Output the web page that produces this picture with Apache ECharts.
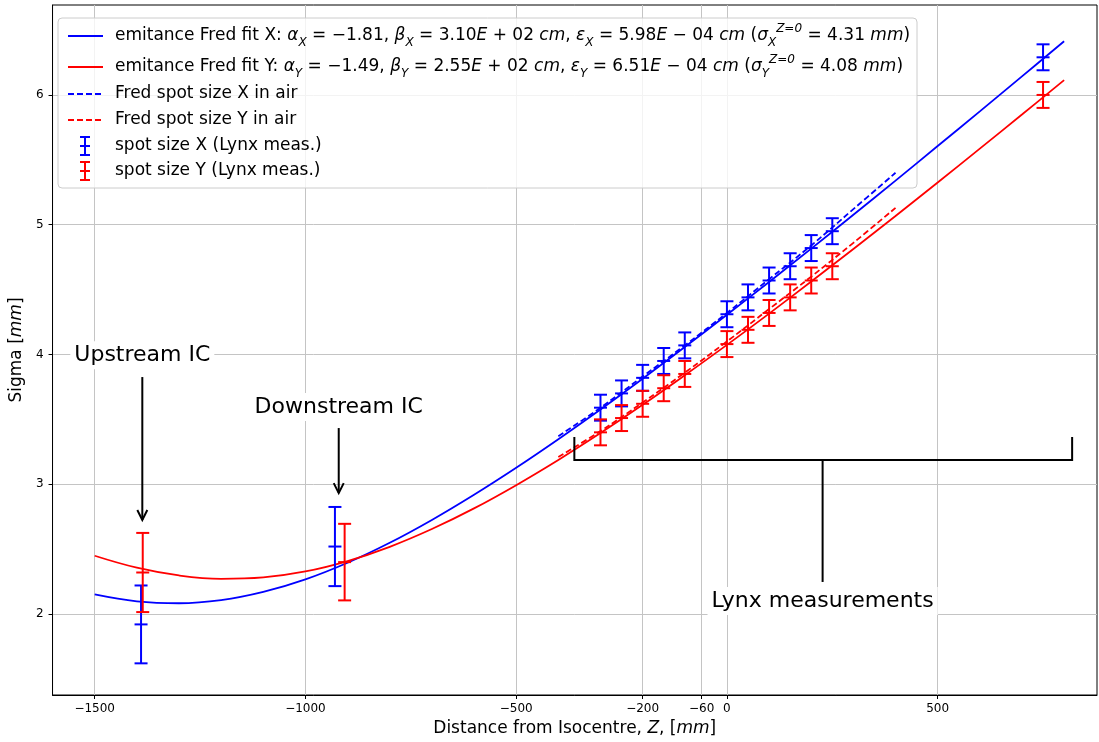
<!DOCTYPE html>
<html><head><meta charset="utf-8">
<script src="https://cdn.jsdelivr.net/npm/echarts@6/dist/echarts.min.js"></script>
<style>html,body{margin:0;padding:0;background:#fff}#c{width:1099px;height:742px}</style>
</head><body><div id="c"></div>
<script>
const FONT = 'DejaVu Sans';
// axis ticks
const xTicks = [-1500, -1000, -500, -200, -60, 0, 500];
const yTicks = [2, 3, 4, 5, 6];
// emittance fit curves
const fitZ = [-1500,-1400,-1300,-1200,-1100,-1000,-900,-800,-700,-600,-500,-400,-300,-200,-100,0,100,200,300,400,500,600,700,800];
const fitX = [2.151,2.098,2.083,2.107,2.170,2.267,2.395,2.549,2.725,2.919,3.127,3.347,3.576,3.813,4.057,4.306,4.559,4.816,5.077,5.340,5.606,5.873,6.143,6.414];
const fitY = [2.449,2.357,2.297,2.271,2.282,2.328,2.408,2.518,2.655,2.814,2.993,3.187,3.394,3.612,3.840,4.074,4.315,4.562,4.813,5.067,5.325,5.586,5.849,6.114];
// Fred spot size in air
const airZ = [-400,-300,-200,-100,0,100,200,300,400];
const airX = [3.37,3.59,3.83,4.07,4.32,4.58,4.84,5.12,5.40];
const airY = [3.21,3.41,3.63,3.86,4.10,4.35,4.60,4.86,5.13];
// measurements (IC + Lynx)
const measZX = [-1390,-930,-300,-250,-200,-150,-100,0,50,100,150,200,250,750];
const measX  = [1.92,2.52,3.59,3.70,3.82,3.95,4.07,4.31,4.44,4.57,4.68,4.82,4.95,6.29];
const errX   = [0.30,0.305,0.10,0.10,0.10,0.10,0.10,0.10,0.10,0.10,0.10,0.10,0.10,0.10];
const measZY = [-1386,-907,-300,-250,-200,-150,-100,0,50,100,150,200,250,750];
const measY  = [2.32,2.40,3.40,3.51,3.62,3.74,3.85,4.08,4.19,4.32,4.44,4.57,4.68,6.00];
const errY   = [0.305,0.295,0.10,0.10,0.10,0.10,0.10,0.10,0.10,0.10,0.10,0.10,0.10,0.10];
// fit parameters (legend text)
const fitAlpha = ['−1.81', '−1.49'];
const fitBeta = ['3.10', '2.55'];
const fitEps = ['5.98', '6.51'];
const fitSigma0 = ['4.31', '4.08'];
const seriesNames = ['emitance Fred fit X', 'emitance Fred fit Y', 'Fred spot size X in air', 'Fred spot size Y in air', 'spot size X (Lynx meas.)', 'spot size Y (Lynx meas.)'];

const BLUE = '#0000ff', RED = '#ff0000';
const zip = (a, b) => a.map((v, i) => [v, b[i]]);
const zip3 = (a, b, c) => a.map((v, i) => [v, b[i], c[i]]);
const minus = v => String(v).replace('-', '−');

function errorBars(color) {
  return function (params, api) {
    const x = api.value(0), y = api.value(1), e = api.value(2);
    const t = api.coord([x, y + e]), b = api.coord([x, y - e]), m = api.coord([x, y]);
    const hw = 6.5, st = { stroke: color, lineWidth: 2 };
    const ln = (x1, y1, x2, y2) => ({ type: 'line', shape: { x1, y1, x2, y2 }, style: st });
    return { type: 'group', children: [
      ln(m[0], t[1], m[0], b[1]),
      ln(m[0] - hw, t[1], m[0] + hw, t[1]),
      ln(m[0] - hw, b[1], m[0] + hw, b[1]),
      ln(m[0] - hw, m[1], m[0] + hw, m[1])
    ] };
  };
}

const chart = echarts.init(document.getElementById('c'));
const axisCommon = {
  type: 'value',
  axisLine: { show: true, onZero: false, lineStyle: { color: '#000', width: 1 } },
  axisTick: { show: true, length: 4, lineStyle: { color: '#000', width: 1 } },
  splitLine: { show: true, lineStyle: { color: '#c4c4c4', width: 1 } },
  axisLabel: { color: '#000', fontSize: 12, fontFamily: FONT, formatter: minus }
};
const option = {
  animation: false,
  backgroundColor: '#fff',
  grid: { left: 50, right: 2, top: 5, bottom: 47, show: true, borderColor: '#000', borderWidth: 1 },
  xAxis: Object.assign({}, axisCommon, {
    min: -1600, max: 878,
    axisTick: Object.assign({}, axisCommon.axisTick, { customValues: xTicks }),
    axisLabel: Object.assign({}, axisCommon.axisLabel, { customValues: xTicks, margin: 8 }),
    name: 'Distance from Isocentre, {i|Z}, [{i|mm}]',
    nameLocation: 'middle', nameGap: 24,
    nameTextStyle: { fontSize: 17, fontFamily: FONT, color: '#000', rich: { i: { fontSize: 17, fontFamily: FONT, fontStyle: 'italic', color: '#000' } } }
  }),
  yAxis: Object.assign({}, axisCommon, {
    min: 1.376, max: 6.693,
    axisTick: Object.assign({}, axisCommon.axisTick, { customValues: yTicks }),
    axisLabel: Object.assign({}, axisCommon.axisLabel, { customValues: yTicks, margin: 9 }),
    name: 'Sigma [{i|mm}]',
    nameLocation: 'middle', nameGap: 24,
    nameTextStyle: { fontSize: 17, fontFamily: FONT, color: '#000', rich: { i: { fontSize: 17, fontFamily: FONT, fontStyle: 'italic', color: '#000' } } }
  }),
  series: [
    { name: seriesNames[0], type: 'line', data: zip(fitZ, fitX), showSymbol: false, smooth: 0.4, lineStyle: { color: BLUE, width: 1.8 }, z: 2 },
    { name: seriesNames[1], type: 'line', data: zip(fitZ, fitY), showSymbol: false, smooth: 0.4, lineStyle: { color: RED, width: 1.8 }, z: 2 },
    { name: seriesNames[2], type: 'line', data: zip(airZ, airX), showSymbol: false, smooth: 0.4, lineStyle: { color: BLUE, width: 1.8, type: [6, 3] }, z: 2 },
    { name: seriesNames[3], type: 'line', data: zip(airZ, airY), showSymbol: false, smooth: 0.4, lineStyle: { color: RED, width: 1.8, type: [6, 3] }, z: 2 },
    { name: seriesNames[4], type: 'custom', data: zip3(measZX, measX, errX), renderItem: errorBars(BLUE), z: 3 },
    { name: seriesNames[5], type: 'custom', data: zip3(measZY, measY, errY), renderItem: errorBars(RED), z: 3 }
  ]
};
chart.setOption(option);

// annotations in data coordinates
const annUpText = { text: 'Upstream IC', at: [-1387, 3.995] };
const annUpArrow = [[-1387, 3.826], [-1387, 2.724]];
const annDownText = { text: 'Downstream IC', at: [-921, 3.595] };
const annDownArrow = [[-921, 3.433], [-921, 2.932]];
const bracket = [[-362, 3.364], [-362, 3.186], [819, 3.186], [819, 3.364]];
const bracketStem = [[227, 3.186], [227, 2.247]];
const annLynxText = { text: 'Lynx measurements', at: [227, 2.10] };

const px = p => chart.convertToPixel({ gridIndex: 0 }, p);
const g = [];
function addText(a) {
  const p = px(a.at);
  g.push({ type: 'text', x: p[0], y: p[1], z: 50, style: { text: a.text, fill: '#000', font: '22px "DejaVu Sans"', align: 'center', verticalAlign: 'middle', backgroundColor: '#fff', padding: [3, 4] } });
}
function addArrow(arr) {
  const a = px(arr[0]), b = px(arr[1]);
  g.push({ type: 'line', z: 50, shape: { x1: a[0], y1: a[1], x2: b[0], y2: b[1] }, style: { stroke: '#000', lineWidth: 2 } });
  g.push({ type: 'polyline', z: 50, shape: { points: [[b[0] - 5, b[1] - 10], [b[0], b[1]], [b[0] + 5, b[1] - 10]] }, style: { stroke: '#000', lineWidth: 2, fill: null } });
}
addText(annUpText); addArrow(annUpArrow);
addText(annDownText); addArrow(annDownArrow);
g.push({ type: 'polyline', z: 50, shape: { points: bracket.map(px) }, style: { stroke: '#000', lineWidth: 2, fill: null } });
g.push({ type: 'polyline', z: 50, shape: { points: bracketStem.map(px) }, style: { stroke: '#000', lineWidth: 2, fill: null } });
addText(annLynxText);

// legend
const L = { x: 58, y: 18, w: 859, h: 170 };
const rows = [36, 67, 94, 120, 146, 171];
const rich = {
  n: { fontSize: 17, fontFamily: FONT, fill: '#000', lineHeight: 26 },
  i: { fontSize: 17, fontFamily: FONT, fontStyle: 'italic', fill: '#000', lineHeight: 26 },
  sub: { fontSize: 12, fontFamily: FONT, fontStyle: 'italic', fill: '#000', verticalAlign: 'bottom', lineHeight: 26 },
  sup: { fontSize: 12, fontFamily: FONT, fontStyle: 'italic', fill: '#000', verticalAlign: 'top', lineHeight: 26 }
};
function fitLabel(k, ax) {
  return '{n|' + seriesNames[k] + ': }{i|α}{sub|' + ax + '}{n| = ' + fitAlpha[k] + ', }{i|β}{sub|' + ax + '}{n| = ' + fitBeta[k] + '}{i|E}{n| + 02 }{i|cm}{n|, }{i|ε}{sub|' + ax + '}{n| = ' + fitEps[k] + '}{i|E}{n| − 04 }{i|cm}{n| (}{i|σ}{sub|' + ax + '}{sup|Z=0}{n| = ' + fitSigma0[k] + ' }{i|mm}{n|)}';
}
const labels = [fitLabel(0, 'X'), fitLabel(1, 'Y'), '{n|' + seriesNames[2] + '}', '{n|' + seriesNames[3] + '}', '{n|' + seriesNames[4] + '}', '{n|' + seriesNames[5] + '}'];
const lg = [{ type: 'rect', shape: { x: L.x, y: L.y, width: L.w, height: L.h, r: 4 }, style: { fill: 'rgba(255,255,255,0.8)', stroke: '#cccccc', lineWidth: 1 } }];
const cols = [BLUE, RED, BLUE, RED, BLUE, RED];
rows.forEach((cy, i) => {
  if (i < 4) {
    lg.push({ type: 'line', shape: { x1: 68, y1: cy, x2: 103, y2: cy }, style: { stroke: cols[i], lineWidth: 1.8, lineDash: i >= 2 ? [6, 3] : null } });
  } else {
    const st = { stroke: cols[i], lineWidth: 2 };
    lg.push({ type: 'line', shape: { x1: 85, y1: cy - 9, x2: 85, y2: cy + 9 }, style: st });
    [cy - 9, cy, cy + 9].forEach(yy => lg.push({ type: 'line', shape: { x1: 80, y1: yy, x2: 90, y2: yy }, style: st }));
  }
  lg.push({ type: 'text', x: 115, y: cy, style: { text: labels[i], rich: rich, verticalAlign: 'middle', align: 'left', font: '17px "DejaVu Sans"', fill: '#000' } });
});
g.push({ type: 'group', z: 100, children: lg });
chart.setOption({ graphic: g });
</script>
</body></html>
